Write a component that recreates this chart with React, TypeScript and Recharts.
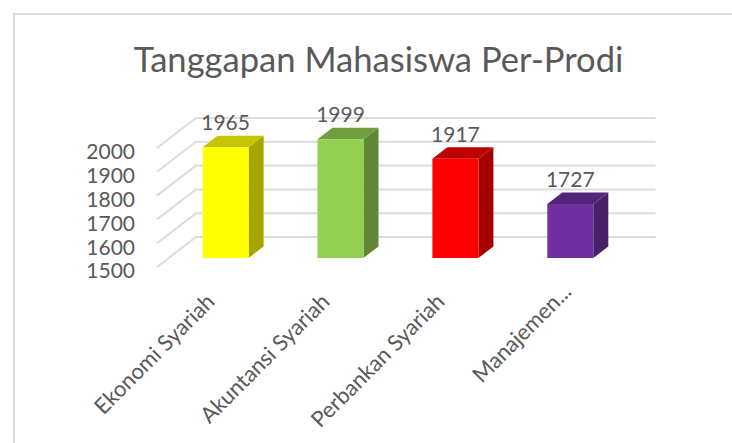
import { BarChart, Bar, XAxis, YAxis, CartesianGrid, LabelList } from "recharts"

const categories = ["Ekonomi Syariah", "Akuntansi Syariah", "Perbankan Syariah", "Manajemen..."]
const responses = [1965, 1999, 1917, 1727]
const yTicks = [1500, 1600, 1700, 1800, 1900, 2000]

const frontColors = ["#ffff00", "#92d050", "#ff0000", "#7030a0"]
const sideColors = ["#a6a600", "#5f8734", "#a50000", "#49206a"]
const topColors = ["#c4c400", "#6f9e3e", "#bd0000", "#532478"]

const data = categories.map((name, i) => ({ name, value: responses[i] }))

const FONT = "Lato, Carlito, sans-serif"
const TEXT = "#595959"

// fake 3D: how far the box and the back wall sit from the bar plane
const DEPTH_X = 15
const DEPTH_Y = 11.5

function Box3D(props: any) {
  const { x, y, width, height, index } = props
  const r = x + width
  const b = y + height
  return (
    <g>
      <polygon points={`${r},${y} ${r + DEPTH_X},${y - DEPTH_Y} ${r + DEPTH_X},${b - DEPTH_Y} ${r},${b}`} fill={sideColors[index]} />
      <polygon points={`${x},${y} ${x + DEPTH_X},${y - DEPTH_Y} ${r + DEPTH_X},${y - DEPTH_Y} ${r},${y}`} fill={topColors[index]} />
      <rect x={x} y={y} width={width} height={height} fill={frontColors[index]} />
    </g>
  )
}

function GridLine(props: any) {
  const { x1, x2, y1 } = props
  return (
    <g stroke="#dcdcdc" strokeWidth={2} fill="none">
      <polyline points={`${x1 - 11.6},${y1 + 9} ${x1 + 27.4},${y1 - 21} ${x2 + 27.4},${y1 - 21}`} />
    </g>
  )
}

function YTick(props: any) {
  const { y, payload } = props
  return (
    <text x={135} y={y + 13} dy="0.35em" textAnchor="end" fontSize={21} fontFamily={FONT} fill={TEXT}>
      {payload.value}
    </text>
  )
}

function XTick(props: any) {
  const { x, payload, index } = props
  // the truncated label sits higher and further right than the others
  const ax = index === 3 ? x + 2 : x - 10
  const ay = index === 3 ? 293 : 303
  return (
    <text x={ax} y={ay} textAnchor="end" fontSize={22} fontFamily={FONT} fill={TEXT} transform={`rotate(-45 ${ax} ${ay})`}>
      {payload.value}
    </text>
  )
}

export default function App() {
  return (
    <div style={{ position: "absolute", left: 0, top: 0, width: 732, height: 443, overflow: "hidden", background: "#fff" }}>
      <div style={{ position: "absolute", left: 13, top: 13, width: 740, height: 460, border: "2px solid #dcdcdc" }} />
      <div style={{ position: "absolute", left: 0, top: 0 }}>
        <BarChart
          width={732}
          height={443}
          data={data}
          barSize={46}
          margin={{ top: 139, right: 103.8, bottom: 0, left: 68.6 }}
        >
          <text x={378.5} y={60} dy="0.35em" textAnchor="middle" fontSize={34.6} fontFamily={FONT} fill={TEXT}>
            Tanggapan Mahasiswa Per-Prodi
          </text>
          <CartesianGrid vertical={false} horizontal={(p: any) => <GridLine key={p.key} {...p} />} />
          <XAxis dataKey="name" axisLine={false} tickLine={false} interval={0} height={185} tick={<XTick />} />
          <YAxis type="number" domain={[1500, 2000]} ticks={yTicks} axisLine={false} tickLine={false} width={100} tick={<YTick />} />
          <Bar dataKey="value" isAnimationActive={false} shape={<Box3D />}>
            <LabelList dataKey="value" position="top" offset={17} fontSize={21} fontFamily={FONT} fill={TEXT} />
          </Bar>
        </BarChart>
      </div>
    </div>
  )
}
